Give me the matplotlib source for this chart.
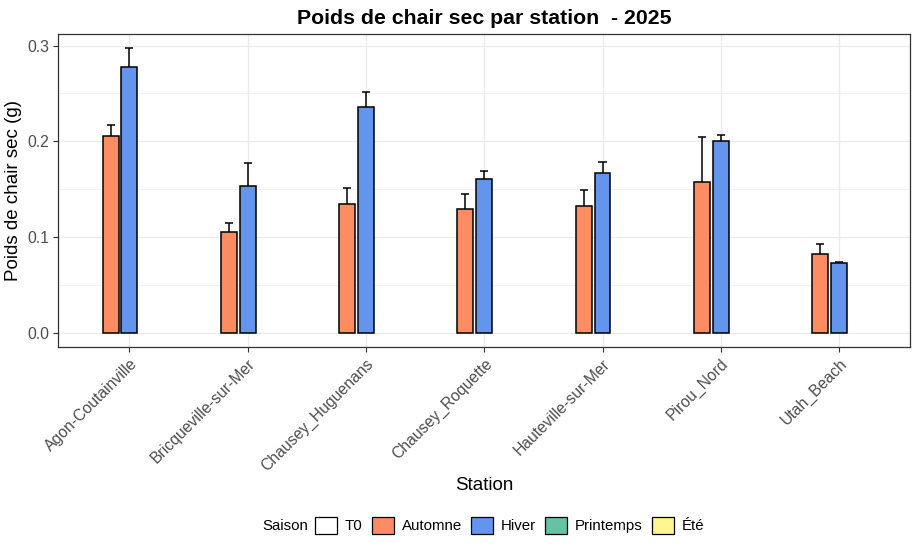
import matplotlib
matplotlib.use("Agg")
import matplotlib.pyplot as plt
from matplotlib.patches import Patch
import numpy as np

plt.rcParams['font.family'] = ['Liberation Sans', 'DejaVu Sans']

stations = ["Agon-Coutainville", "Bricqueville-sur-Mer", "Chausey_Huguenans",
            "Chausey_Roquette", "Hauteville-sur-Mer", "Pirou_Nord", "Utah_Beach"]
seasons = ["T0", "Automne", "Hiver", "Printemps", "Été"]
season_colors = ["#FFFFFF", "#FC8D62", "#6495ED", "#66C2A5", "#FFF68F"]

automne_mean = [0.2054, 0.1053, 0.1345, 0.1293, 0.1324, 0.1575, 0.0824]
automne_se = [0.0121, 0.0094, 0.0167, 0.0157, 0.0166, 0.0469, 0.0110]
hiver_mean = [0.2774, 0.1536, 0.2357, 0.1606, 0.1668, 0.2002, 0.0730]
hiver_se = [0.0196, 0.0237, 0.0156, 0.0084, 0.0115, 0.0069, 0.0010]

data = {"Automne": (automne_mean, automne_se), "Hiver": (hiver_mean, hiver_se)}

W, H = 918, 552
fig = plt.figure(figsize=(W / 100, H / 100), dpi=100)
left, right, top, bottom = 58.5, 910, 34, 347
ax = fig.add_axes([left / W, 1 - bottom / H, (right - left) / W, (bottom - top) / H])

x = np.arange(len(stations))
slot = 0.16
bw = 0.135
cap = 0.034
for i, s in enumerate(seasons):
    if s not in data:
        continue
    m, se = data[s]
    m = np.array(m)
    se = np.array(se)
    xs = x + (i - 2) * slot
    ax.bar(xs, m, width=bw, color=season_colors[i], edgecolor="black",
           linewidth=1.1, zorder=3)
    ax.vlines(xs, m, m + se, color="black", linewidth=1.1, zorder=4)
    ax.hlines(m + se, xs - cap, xs + cap, color="black", linewidth=1.1, zorder=4)

ax.set_xlim(-0.6, len(stations) - 0.4)
ax.set_ylim(-0.0146, 0.3121)
ax.set_yticks([0.0, 0.1, 0.2, 0.3])
ax.set_yticklabels(["0.0", "0.1", "0.2", "0.3"])
ax.set_yticks([0.05, 0.15, 0.25], minor=True)
ax.set_xticks(x)
ax.set_xticklabels(stations, rotation=45, ha="right", va="top",
                   rotation_mode="anchor")

ax.grid(True, which="major", color="#EBEBEB", linewidth=0.9, zorder=0)
ax.grid(True, which="minor", axis="y", color="#EBEBEB", linewidth=0.45, zorder=0)
ax.set_axisbelow(True)
for sp in ax.spines.values():
    sp.set_color("#333333")
    sp.set_linewidth(0.9)
ax.tick_params(which="major", length=3.5, width=0.8, color="#333333",
               labelcolor="#4D4D4D", labelsize=11.3, pad=3)
ax.tick_params(which="minor", length=0)

ax.set_xlabel("Station", fontsize=13.5, labelpad=2)
ax.set_ylabel("Poids de chair sec (g)", fontsize=13.5, labelpad=4)
ax.set_title("Poids de chair sec par station  - 2025", fontsize=15.3,
             fontweight="bold", pad=7)

handles = [Patch(facecolor=c, edgecolor="black", linewidth=0.9) for c in season_colors]
leg = fig.legend(handles, seasons, loc="center left",
                 bbox_to_anchor=(315 / W, 1 - 525.5 / H), ncol=5, frameon=False,
                 fontsize=10.8, handlelength=1.45, handleheight=1.45,
                 handletextpad=0.55, columnspacing=0.6, borderpad=0,
                 borderaxespad=0)
fig.text(262 / W, 1 - 525.5 / H, "Saison", fontsize=10.8, ha="left", va="center")

fig.savefig("out.png", dpi=100)
